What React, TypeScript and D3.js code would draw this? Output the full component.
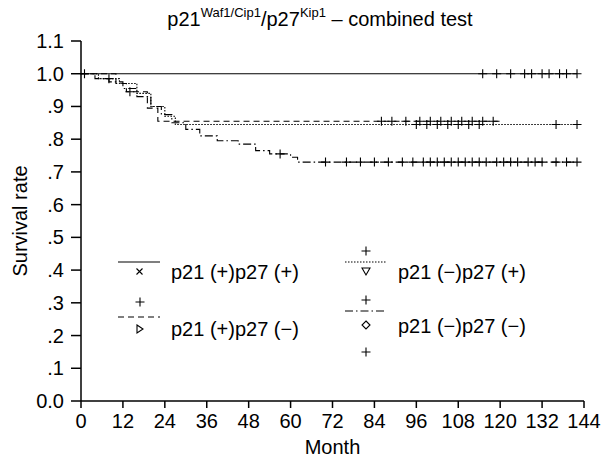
import React from "react";
import * as d3 from "d3";

// x and y tick values
const monthTicks = [0, 12, 24, 36, 48, 60, 72, 84, 96, 108, 120, 132, 144];
const rateTicks = [0, 0.1, 0.2, 0.3, 0.4, 0.5, 0.6, 0.7, 0.8, 0.9, 1.0, 1.1];

// [month, survival] step points, censor months and last follow-up per group
const ppSteps = [[0, 1.0]];
const ppCensor = [1, 115, 119, 123, 127, 129, 132, 134, 137, 139, 142];
const ppEnd = 142;

const pnSteps = [[0, 1.0], [10, 0.97], [13, 0.945], [19, 0.895], [22, 0.855]];
const pnCensor = [14, 86, 89, 93, 97, 100, 103, 106, 109, 112, 115, 118];
const pnEnd = 120;

const npSteps = [[0, 1.0], [5, 0.985], [11, 0.97], [16, 0.94], [20, 0.9], [24, 0.87], [27, 0.845]];
const npCensor = [8, 96, 99, 102, 105, 108, 111, 114, 136, 142];
const npEnd = 142;

const nnSteps = [
  [0, 1.0], [4, 0.985], [8, 0.975], [12, 0.955], [16, 0.93], [20, 0.9], [23, 0.875],
  [26, 0.85], [30, 0.83], [34, 0.81], [39, 0.795], [45, 0.785], [50, 0.765],
  [54, 0.755], [60, 0.745], [62, 0.73],
];
const nnCensor = [
  57, 70, 76, 80, 84, 88, 92, 95, 98, 100, 102, 104, 106, 108, 110, 112, 114, 116,
  119, 121, 123, 125, 128, 130, 132, 136, 139, 142,
];
const nnEnd = 142;

const width = 615;
const height = 465;
const margin = { top: 41, right: 31, bottom: 64, left: 81 };
const font = "'Liberation Sans', Arial, sans-serif";
const fs = 20;

const x = d3.scaleLinear().domain([0, 144]).range([margin.left, width - margin.right]);
const y = d3.scaleLinear().domain([0, 1.1]).range([height - margin.bottom, margin.top]);

const stepLine = d3.line<number[]>()
  .x(d => x(d[0]))
  .y(d => y(d[1]))
  .curve(d3.curveStepAfter);

function survAt(steps: number[][], t: number) {
  let s = steps[0][1];
  for (const p of steps) if (p[0] <= t) s = p[1];
  return s;
}

const groups = [
  { steps: ppSteps, censor: ppCensor, end: ppEnd, dash: null },
  { steps: pnSteps, censor: pnCensor, end: pnEnd, dash: "6,4" },
  { steps: npSteps, censor: npCensor, end: npEnd, dash: "1.5,1.5" },
  { steps: nnSteps, censor: nnCensor, end: nnEnd, dash: "8,3,1.5,3" },
];

const Plus = ({ cx, cy, r = 4.5 }: { cx: number; cy: number; r?: number }) => (
  <path d={`M${cx - r},${cy}H${cx + r}M${cx},${cy - r}V${cy + r}`} stroke="#000" strokeWidth={1.1} fill="none" />
);

const App = () => {
  const x0 = x(0);
  const y0 = y(0);
  return (
    <svg width={width} height={height} style={{ position: "absolute", left: 0, top: 0, background: "#fff" }} fontFamily={font}>
      {/* title */}
      <text x={320} y={26} textAnchor="middle" fontSize={20}>
        <tspan>p21</tspan>
        <tspan fontSize={13} dy={-9}>Waf1/Cip1</tspan>
        <tspan dy={9}>/p27</tspan>
        <tspan fontSize={13} dy={-9}>Kip1</tspan>
        <tspan dy={9}>{" \u2013 combined test"}</tspan>
      </text>

      {/* axes */}
      <g stroke="#000" strokeWidth={1.5} fill="none">
        <line x1={x0} x2={x0} y1={y(1.1)} y2={y0} />
        <line x1={x0} x2={x(144)} y1={y0} y2={y0} />
        {rateTicks.map(t => (
          <line key={"y" + t} x1={x0 - 10} x2={x0} y1={y(t)} y2={y(t)} />
        ))}
        {monthTicks.map(t => (
          <line key={"x" + t} x1={x(t)} x2={x(t)} y1={y0} y2={y0 + 7} />
        ))}
      </g>
      {rateTicks.map(t => (
        <text key={"yl" + t} x={x0 - 17} y={y(t)} dy="0.35em" textAnchor="end" fontSize={fs}>
          {t === 0 ? "0.0" : t >= 1 ? d3.format(".1f")(t) : d3.format(".1f")(t).replace(/^0/, "")}
        </text>
      ))}
      {monthTicks.map(t => (
        <text key={"xl" + t} x={x(t)} y={y0 + 27} textAnchor="middle" fontSize={fs}>{t}</text>
      ))}
      <text x={(x0 + x(144)) / 2} y={height - 11} textAnchor="middle" fontSize={fs}>Month</text>
      <text transform={`translate(27,${(y(1.1) + y0) / 2}) rotate(-90)`} textAnchor="middle" fontSize={fs}>Survival rate</text>

      {/* survival curves */}
      {groups.map((g, i) => (
        <g key={"g" + i}>
          <path
            d={stepLine([...g.steps, [g.end, g.steps[g.steps.length - 1][1]]]) || ""}
            fill="none"
            stroke="#000"
            strokeWidth={1.1}
            strokeDasharray={g.dash || undefined}
          />
          {g.censor.map((c, j) => (
            <Plus key={j} cx={x(c)} cy={y(survAt(g.steps, c))} />
          ))}
        </g>
      ))}

      {/* legend */}
      <g stroke="#000" strokeWidth={1.1} fill="none">
        <line x1={118} x2={160} y1={262} y2={262} />
        <path d="M136.5,268.5l6,6m0,-6l-6,6" />
        <line x1={118} x2={160} y1={317} y2={317} strokeDasharray="6,4" />
        <path d="M137,325l6,4l-6,4z" />
        <line x1={345} x2={387} y1={262} y2={262} strokeDasharray="1.5,1.5" />
        <path d="M362,268h8l-4,7z" />
        <line x1={345} x2={387} y1={311} y2={311} strokeDasharray="8,3,1.5,3" />
        <path d="M366,321l4,4l-4,4l-4,-4z" />
      </g>
      <Plus cx={140} cy={302} />
      <Plus cx={366} cy={251} />
      <Plus cx={366} cy={300} />
      <Plus cx={366} cy={352} />
      <g fontSize={fs}>
        <text x={171} y={272} dy="0.35em">p21 (+)p27 (+)</text>
        <text x={171} y={329} dy="0.35em">p21 (+)p27 ({"\u2212"})</text>
        <text x={398} y={272} dy="0.35em">p21 ({"\u2212"})p27 (+)</text>
        <text x={398} y={326} dy="0.35em">p21 ({"\u2212"})p27 ({"\u2212"})</text>
      </g>
    </svg>
  );
};

export default App;
